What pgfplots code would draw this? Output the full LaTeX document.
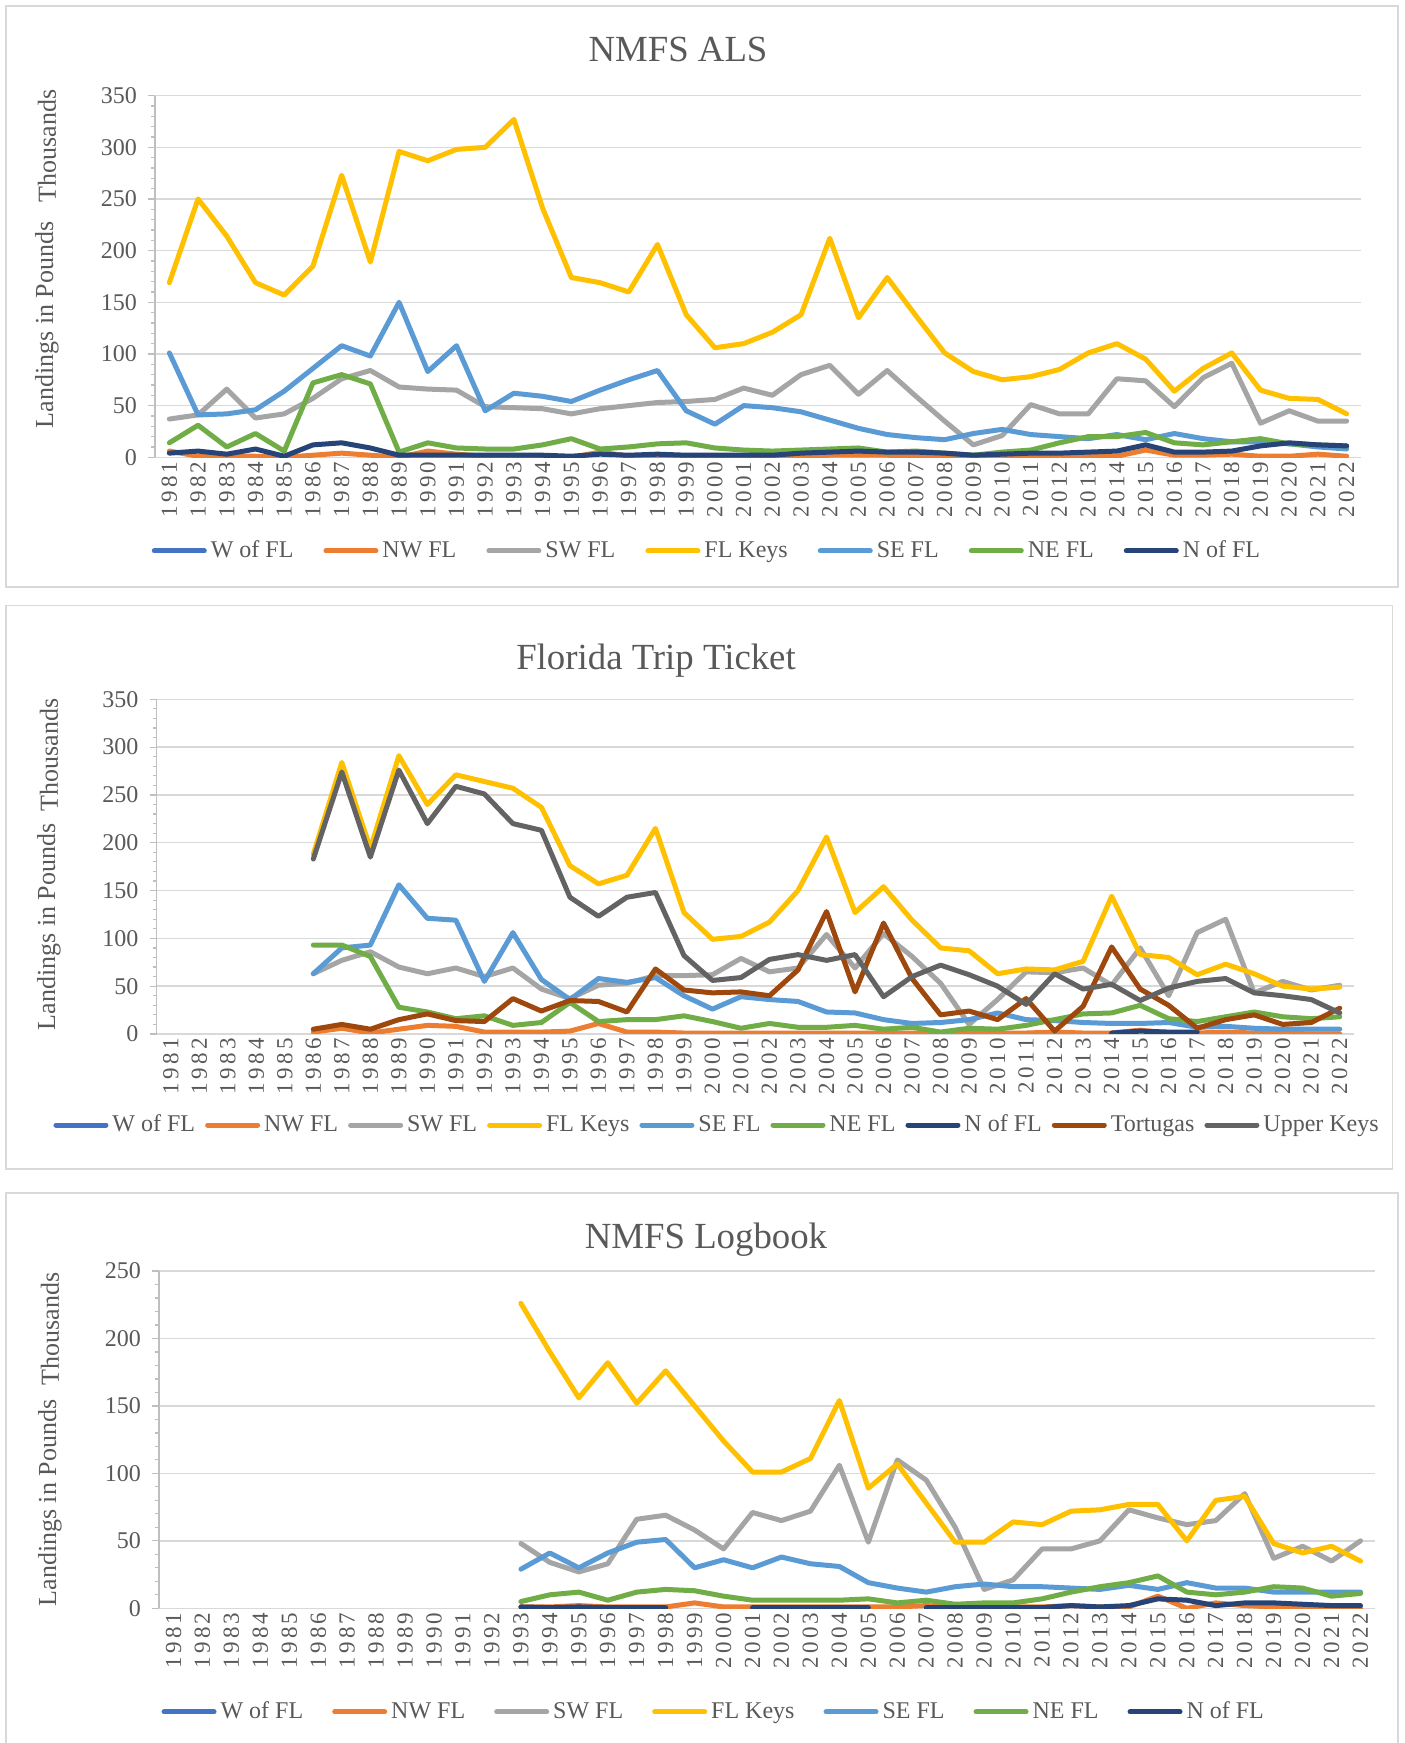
\documentclass[border=0pt]{standalone}
\usepackage{fontspec}
\setmainfont{Liberation Serif}
\usepackage{pgfplots}
\usepackage{pgfplotstable}
\pgfplotsset{compat=1.18}
\definecolor{cW}{HTML}{4472C4}
\definecolor{cNW}{HTML}{ED7D31}
\definecolor{cSW}{HTML}{A5A5A5}
\definecolor{cK}{HTML}{FFC000}
\definecolor{cSE}{HTML}{5B9BD5}
\definecolor{cNE}{HTML}{70AD47}
\definecolor{cN}{HTML}{264478}
\definecolor{cT}{HTML}{9E480E}
\definecolor{cU}{HTML}{636363}
\definecolor{gridc}{HTML}{D9D9D9}
\definecolor{axc}{HTML}{BFBFBF}
\definecolor{tickc}{HTML}{595959}
\definecolor{boxc}{HTML}{D9D9D9}
\newcommand{\fs}[1]{\fontsize{#1}{#1}\selectfont}

\pgfplotstableread{
yr NW SW Keys SE NE N
1981 6 37 169 101 14 4
1982 1 41 250 41 31 6
1983 1 66 214 42 10 3
1984 1 38 169 46 23 8
1985 0 42 157 64 6 1
1986 2 57 185 86 72 12
1987 4 76 273 108 80 14
1988 2 84 189 98 71 9
1989 0 68 296 150 5 2
1990 6 66 287 83 14 2
1991 3 65 298 108 9 2
1992 1 49 300 45 8 2
1993 1 48 327 62 8 2
1994 1 47 241 59 12 2
1995 0 42 174 54 18 1
1996 5 47 169 65 8 3
1997 1 50 160 75 10 2
1998 1 53 206 84 13 3
1999 1 54 138 45 14 2
2000 1 56 106 32 9 2
2001 0 67 110 50 7 2
2002 1 60 121 48 6 2
2003 1 80 138 44 7 4
2004 2 89 212 36 8 5
2005 2 61 135 28 9 6
2006 2 84 174 22 5 5
2007 1 59 137 19 6 5
2008 1 35 101 17 4 4
2009 0 12 83 23 2 2
2010 0 21 75 27 5 3
2011 0 51 78 22 7 4
2012 2 42 85 20 14 4
2013 1 42 101 18 20 5
2014 1 76 110 22 20 6
2015 7 74 95 17 24 12
2016 2 49 64 23 14 5
2017 2 77 86 18 12 5
2018 3 91 101 15 15 6
2019 1 33 65 15 18 11
2020 1 45 57 13 13 14
2021 3 35 56 10 12 12
2022 1 35 42 8 11 11
}\tA

\pgfplotstableread{
yr NW SW Keys SE NE N Tort Upper
1986 2 63 188 63 93 nan 5 183
1987 6 77 284 90 93 nan 10 274
1988 1 86 194 93 81 nan 5 185
1989 5 70 291 156 28 nan 15 276
1990 9 63 240 121 23 nan 21 220
1991 8 69 271 119 16 nan 14 259
1992 2 60 264 55 19 nan 13 251
1993 2 69 257 106 9 nan 37 220
1994 2 47 237 57 12 nan 24 213
1995 3 37 176 36 33 nan 35 143
1996 11 51 157 58 13 nan 34 123
1997 2 53 166 54 15 nan 23 143
1998 2 61 215 59 15 nan 68 148
1999 1 61 127 40 19 nan 46 82
2000 1 62 99 26 13 nan 43 56
2001 1 79 102 39 6 nan 44 59
2002 1 65 117 36 11 nan 40 78
2003 1 69 150 34 7 nan 67 83
2004 1 104 206 23 7 nan 128 77
2005 1 69 127 22 9 nan 44 83
2006 1 105 154 15 5 nan 116 39
2007 1 81 119 11 7 nan 58 60
2008 1 53 90 12 2 nan 20 72
2009 1 10 87 15 6 nan 24 62
2010 1 36 63 22 5 nan 15 50
2011 1 65 68 15 9 nan 37 31
2012 2 64 67 14 15 nan 3 63
2013 1 69 76 12 21 nan 29 47
2014 1 51 144 11 22 1 91 52
2015 4 90 83 11 30 3 47 35
2016 1 40 80 12 16 2 30 48
2017 1 106 62 7 13 2 6 55
2018 2 120 73 8 18 nan 15 58
2019 1 43 63 6 23 nan 20 43
2020 1 55 50 5 18 nan 10 40
2021 0 46 47 5 16 nan 12 36
2022 0 51 49 5 18 nan 27 22
}\tB

\pgfplotstableread{
yr NW SW Keys SE NE N
1993 1 48 226 29 5 1
1994 1 34 190 41 10 0.5
1995 2 27 156 30 12 1
1996 1 33 182 41 6 0.5
1997 1 66 152 49 12 0.5
1998 1 69 176 51 14 0.5
1999 4 58 150 30 13 nan
2000 1 44 124 36 9 nan
2001 1 71 101 30 6 0.5
2002 1 65 101 38 6 0.5
2003 1 72 111 33 6 0.5
2004 1 106 154 31 6 0.5
2005 1 49 89 19 7 0.5
2006 1 110 107 15 4 nan
2007 2 95 78 12 6 0.5
2008 1 60 49 16 3 0.5
2009 1 14 49 18 4 0.5
2010 1 21 64 16 4 0.5
2011 1 44 62 16 7 0.5
2012 2 44 72 15 12 2
2013 1 50 73 14 16 1
2014 1 73 77 17 19 2
2015 9 67 77 14 24 7
2016 0 62 50 19 12 6
2017 4 65 80 15 10 2
2018 2 85 83 15 12 4
2019 1 37 48 12 16 4
2020 1 46 41 12 15 3
2021 1 35 46 12 9 2
2022 0 50 35 12 11 2
}\tC

\pgfplotsset{
  panel/.style={
    scale only axis,
    xmin=1980.5, xmax=2022.5, ymin=0,
    xtick={1981,...,2022},
    ytick distance=50,
    minor y tick num=4,
    axis lines*=left,
    x axis line style={draw=gridc, line width=0.75pt},
    y axis line style={draw=axc, line width=0.75pt},
    tick align=outside,
    major tick length=3.5pt,
    minor tick length=2pt,
    xtick style={draw=none},
    ytick style={draw=axc, line width=0.6pt},
    ymajorgrids,
    major grid style={draw=gridc, line width=0.75pt},
    xticklabel style={rotate=90, anchor=east, font=\fs{11.5}\addfontfeature{LetterSpace=14}, text=tickc, inner sep=1.5pt},
    xticklabel shift=-3pt,
    yticklabel style={font=\fs{12}, text=tickc, xshift=-2pt},
    /pgf/number format/assume math mode=true,
    /pgf/number format/1000 sep={},
    unbounded coords=jump,
    legend style={draw=none, fill=none, font=\fs{12}, text=tickc, anchor=center},
    legend cell align=left,
    legend image code/.code={\draw[line width=2.5pt, line cap=round, ##1] (0pt,0pt) -- (25pt,0pt);},
    every axis plot/.append style={line width=2.5pt, line join=round, line cap=round, no markers},
  },
}

\begin{document}
\begin{tikzpicture}
\useasboundingbox (0,0) rectangle (702pt,871.5pt);
\fill[white] (0,0) rectangle (702pt,871.5pt);
% panel borders
\draw[boxc, line width=0.75pt] (3pt,578pt) rectangle (699pt,868.5pt);
\draw[boxc, line width=0.75pt] (3pt,287pt) rectangle (696.25pt,568.7pt);
\draw[boxc, line width=0.75pt] (3pt,-2pt) rectangle (699pt,275pt);

% ---------- Panel 1 ----------
\begin{axis}[panel, at={(77.5pt,642.85pt)}, anchor=south west,
  width=603pt, height=180.8pt, ymax=350,
  legend columns=7,
  legend style={at={(0.4585,-0.259)}, /tikz/every even column/.append style={column sep=13pt}}]
\addlegendimage{cW}\addlegendentry{W of FL}
\addplot[cNW] table[x=yr,y=NW]{\tA};\addlegendentry{NW FL}
\addplot[cSW] table[x=yr,y=SW]{\tA};\addlegendentry{SW FL}
\addplot[cK] table[x=yr,y=Keys]{\tA};\addlegendentry{FL Keys}
\addplot[cSE] table[x=yr,y=SE]{\tA};\addlegendentry{SE FL}
\addplot[cNE] table[x=yr,y=NE]{\tA};\addlegendentry{NE FL}
\addplot[cN] table[x=yr,y=N]{\tA};\addlegendentry{N of FL}
\end{axis}

% ---------- Panel 2 ----------
\begin{axis}[panel, at={(78.25pt,354.5pt)}, anchor=south west,
  width=598.75pt, height=167.35pt, ymax=350,
  legend columns=9,
  legend style={at={(0.469,-0.272)}, /tikz/every even column/.append style={column sep=3pt}}]
\addlegendimage{cW}\addlegendentry{W of FL}
\addplot[cNW] table[x=yr,y=NW]{\tB};\addlegendentry{NW FL}
\addplot[cSW] table[x=yr,y=SW]{\tB};\addlegendentry{SW FL}
\addplot[cK] table[x=yr,y=Keys]{\tB};\addlegendentry{FL Keys}
\addplot[cSE] table[x=yr,y=SE]{\tB};\addlegendentry{SE FL}
\addplot[cNE] table[x=yr,y=NE]{\tB};\addlegendentry{NE FL}
\addplot[cN] table[x=yr,y=N]{\tB};\addlegendentry{N of FL}
\addplot[cT] table[x=yr,y=Tort]{\tB};\addlegendentry{Tortugas}
\addplot[cU] table[x=yr,y=Upper]{\tB};\addlegendentry{Upper Keys}
\end{axis}

% ---------- Panel 3 ----------
\begin{axis}[panel, at={(79.5pt,67.35pt)}, anchor=south west,
  width=608pt, height=168.65pt, ymax=250,
  legend columns=7,
  legend style={at={(0.457,-0.307)}, /tikz/every even column/.append style={column sep=12.5pt}}]
\addlegendimage{cW}\addlegendentry{W of FL}
\addplot[cNW] table[x=yr,y=NW]{\tC};\addlegendentry{NW FL}
\addplot[cSW] table[x=yr,y=SW]{\tC};\addlegendentry{SW FL}
\addplot[cK] table[x=yr,y=Keys]{\tC};\addlegendentry{FL Keys}
\addplot[cSE] table[x=yr,y=SE]{\tC};\addlegendentry{SE FL}
\addplot[cNE] table[x=yr,y=NE]{\tC};\addlegendentry{NE FL}
\addplot[cN] table[x=yr,y=N]{\tC};\addlegendentry{N of FL}
\end{axis}

% titles
\node[font=\fs{18.4}, text=tickc, anchor=base] at (339pt,840.5pt) {NMFS ALS};
\node[font=\fs{18.4}, text=tickc, anchor=base] at (328pt,536.5pt) {Florida Trip Ticket};
\node[font=\fs{18.4}, text=tickc, anchor=base] at (353pt,247pt) {NMFS Logbook};
% y labels
\node[rotate=90, font=\fs{13}, text=tickc] at (23.5pt,709pt) {Landings in Pounds};
\node[rotate=90, font=\fs{13}, text=tickc] at (23.5pt,798.5pt) {Thousands};
\node[rotate=90, font=\fs{13}, text=tickc] at (24.5pt,408pt) {Landings in Pounds};
\node[rotate=90, font=\fs{13}, text=tickc] at (24.5pt,494pt) {Thousands};
\node[rotate=90, font=\fs{13}, text=tickc] at (25pt,120pt) {Landings in Pounds};
\node[rotate=90, font=\fs{13}, text=tickc] at (25pt,207pt) {Thousands};
\end{tikzpicture}
\end{document}
